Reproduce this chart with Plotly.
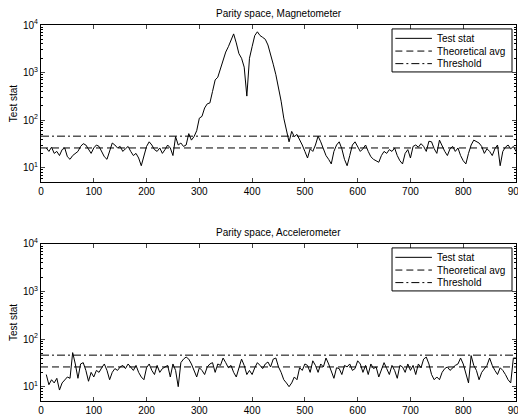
import plotly.graph_objects as go
import numpy as np

# ---------------- data ----------------
mag_x = list(range(10, 905, 5))
mag_y = [26, 22, 27, 20, 22, 18, 24, 26, 17, 15, 18, 20, 22, 28, 32, 30, 24, 20, 26, 30,
         28, 22, 17, 15, 22, 33, 30, 26, 28, 22, 25, 28, 22, 18, 20, 16, 11, 18, 28, 35,
         30, 24, 22, 26, 20, 24, 30, 26, 18, 45, 30, 33, 28, 30, 52, 38, 45, 60, 110, 120,
         180, 220, 230, 400, 700, 800, 1200, 1800, 2700, 3500, 5000, 6500, 4200, 2500, 2000, 1300, 320, 2000, 3500, 6000,
         7200, 6000, 5500, 5000, 3800, 2500, 1500, 900, 500, 250, 110, 60, 35, 58, 45, 50, 40, 30, 22, 16,
         25, 22, 30, 46, 35, 25, 18, 15, 12, 22, 30, 35, 25, 15, 11, 18, 30, 35, 28, 22,
         25, 30, 22, 17, 15, 14, 13, 18, 22, 20, 24, 22, 26, 18, 14, 12, 20, 24, 16, 28,
         30, 27, 32, 28, 22, 36, 35, 25, 20, 38, 28, 22, 18, 25, 28, 22, 26, 18, 14, 12,
         20, 30, 38, 35, 33, 28, 20, 25, 22, 18, 25, 30, 11, 22, 27, 30, 25, 28, 22]

acc_x = list(range(10, 905, 5))
acc_y = [18, 11, 14, 12, 15, 8.5, 12, 14, 16, 15, 52, 30, 15, 30, 32, 22, 13, 20, 16, 22,
         20, 25, 30, 22, 14, 20, 24, 22, 26, 28, 24, 30, 26, 22, 28, 20, 16, 14, 25, 30,
         22, 18, 28, 20, 24, 26, 28, 16, 30, 22, 10, 32, 38, 42, 38, 30, 22, 16, 25, 22,
         18, 26, 30, 32, 20, 30, 28, 40, 32, 25, 28, 20, 16, 25, 38, 28, 18, 22, 18, 25,
         32, 28, 24, 30, 33, 26, 38, 40, 26, 20, 14, 12, 10, 12, 16, 14, 25, 22, 30, 28,
         20, 35, 28, 20, 30, 26, 40, 30, 22, 15, 25, 24, 18, 28, 26, 30, 22, 24, 35, 30,
         20, 28, 18, 30, 24, 26, 16, 22, 32, 24, 18, 28, 22, 15, 28, 26, 20, 30, 22, 28,
         18, 30, 25, 38, 42, 30, 18, 14, 16, 14, 20, 24, 26, 22, 25, 28, 30, 40, 30, 20,
         12, 45, 28, 22, 14, 20, 24, 28, 40, 28, 22, 18, 25, 22, 18, 14, 12, 40, 40]

theoretical_avg = 26
threshold = 46
x_range = [0, 900]

titles = ["Parity space, Magnetometer", "Parity space, Accelerometer"]
series_names = ["Test stat", "Theoretical avg", "Threshold"]
x_ticks = list(range(0, 1000, 100))
y_ticks = [10, 100, 1000, 10000]
y_ticktext = ["10<sup>1</sup>", "10<sup>2</sup>", "10<sup>3</sup>", "10<sup>4</sup>"]

# ---------------- figure ----------------
FONT = "Liberation Sans, Arial, sans-serif"
TXT = dict(size=10, color="black", family=FONT)
DASHES = ["solid", "7px,4px", "8px,3px,2px,3px"]

fig = go.Figure()
minor_vals = [m * 10 ** k for k in range(0, 4) for m in range(2, 10) if m * 10 ** k >= 5]

panels = [(mag_x, mag_y, "x", "y"), (acc_x, acc_y, "x2", "y2")]
for xs, ys, xa, ya in panels:
    fig.add_trace(go.Scatter(x=xs, y=ys, mode="lines", name=series_names[0], showlegend=False,
                             line=dict(color="black", width=1), xaxis=xa, yaxis=ya))
    fig.add_trace(go.Scatter(x=x_range, y=[theoretical_avg] * 2, mode="lines", name=series_names[1],
                             showlegend=False, line=dict(color="black", width=1, dash=DASHES[1]),
                             xaxis=xa, yaxis=ya))
    fig.add_trace(go.Scatter(x=x_range, y=[threshold] * 2, mode="lines", name=series_names[2],
                             showlegend=False, line=dict(color="black", width=1, dash=DASHES[2]),
                             xaxis=xa, yaxis=ya))

# legend boxes drawn in axis-domain coordinates (MATLAB-style compact legend)
shapes, annotations = [], []
entry_y = [0.915, 0.834, 0.754]
for xa, ya in [("x", "y"), ("x2", "y2")]:
    xd, yd = f"{xa} domain", f"{ya} domain"
    shapes.append(dict(type="rect", xref=xd, yref=yd, x0=0.739, x1=0.9916, y0=0.701, y1=0.975,
                       line=dict(color="black", width=1), fillcolor="white", layer="above"))
    for name, dash, ey in zip(series_names, DASHES, entry_y):
        shapes.append(dict(type="line", xref=xd, yref=yd, x0=0.746, x1=0.823, y0=ey, y1=ey,
                           line=dict(color="black", width=1, dash=dash), layer="above"))
        annotations.append(dict(text=name, xref=xd, yref=yd, x=0.829, y=ey, xanchor="left",
                                yanchor="middle", showarrow=False, font=TXT))

for t, yd in zip(titles, ["y domain", "y2 domain"]):
    annotations.append(dict(text=t, x=0.5, y=1.0, xref="x domain", yref=yd, xanchor="center",
                            yanchor="bottom", yshift=4, showarrow=False, font=TXT))

xaxis_common = dict(range=x_range, tickvals=x_ticks, ticks="inside", ticklen=4, showline=True,
                    linecolor="black", linewidth=1, mirror="ticks", showgrid=False, zeroline=False,
                    tickfont=TXT, automargin=False)
yaxis_common = dict(type="log", range=[np.log10(5), 4], tickvals=y_ticks, ticktext=y_ticktext,
                    ticks="inside", ticklen=4, showline=True, linecolor="black", linewidth=1,
                    mirror="ticks", showgrid=False, zeroline=False, tickfont=TXT, automargin=False,
                    minor=dict(tickvals=minor_vals, ticks="inside", ticklen=2, tickcolor="black"),
                    title=dict(text="Test stat", font=TXT, standoff=4))

# the page body adds an 8px offset, so the figure is sized/margined to compensate
fig.update_layout(
    width=518, height=406,
    margin=dict(l=33, r=10, t=17, b=13),
    paper_bgcolor="white", plot_bgcolor="white",
    font=TXT, showlegend=False,
    xaxis=dict(domain=[0, 1], anchor="y", **xaxis_common),
    yaxis=dict(domain=[0.5824, 1], anchor="x", **yaxis_common),
    xaxis2=dict(domain=[0, 1], anchor="y2", **xaxis_common),
    yaxis2=dict(domain=[0, 0.4176], anchor="x2", **yaxis_common),
    shapes=shapes,
    annotations=annotations,
)

fig.write_html("out.html")
